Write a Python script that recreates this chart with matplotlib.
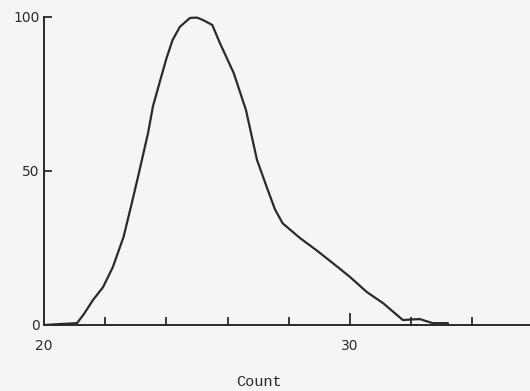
import matplotlib
matplotlib.use("Agg")
import matplotlib.pyplot as plt
from matplotlib.ticker import FixedLocator

count = [20.0, 20.5, 21.08, 21.3, 21.6, 21.93, 22.25, 22.6, 22.87, 23.07, 23.4, 23.56, 23.8, 24.0,
         24.2, 24.44, 24.77, 25.0, 25.2, 25.5, 25.75, 26.2, 26.6, 26.96, 27.3, 27.55, 27.8, 28.37,
         28.9, 29.45, 30.0, 30.55, 31.08, 31.54, 31.73, 32.0, 32.29, 32.7, 33.2]
value = [0.0, 0.3, 0.6, 3.5, 8.1, 12.3, 18.8, 28.6, 39.6, 48.0, 62.3, 71.0, 79.5, 86.5,
         92.5, 96.8, 99.7, 99.8, 99.0, 97.4, 91.5, 81.8, 69.8, 53.6, 44.2, 37.5, 33.0, 28.2,
         24.3, 20.0, 15.6, 10.7, 7.1, 3.2, 1.6, 1.8, 1.9, 0.6, 0.6]
x_ticks = [20, 30]
x_minor = [22, 24, 26, 28, 32, 34]
y_ticks = [0, 50, 100]

bg = "#f6f4f5"
ink = "#2b2a2b"

fig = plt.figure(figsize=(5.30, 3.91), dpi=100, facecolor=bg)
ax = fig.add_axes([44/530, 1-325/391, 1-44/530, (325-17)/391])
ax.set_facecolor(bg)
ax.plot(count, value, color=ink, lw=1.6, solid_joinstyle="round", solid_capstyle="round",
        clip_on=False)

ax.set_xlim(20, 20 + 486/30.6)
ax.set_ylim(0, 100)
for s in ["top", "right"]:
    ax.spines[s].set_visible(False)
for s in ["left", "bottom"]:
    ax.spines[s].set_color(ink)
    ax.spines[s].set_linewidth(1.4)

ax.xaxis.set_major_locator(FixedLocator(x_ticks))
ax.set_xticklabels([str(v) for v in x_ticks])
ax.xaxis.set_minor_locator(FixedLocator(x_minor))
ax.tick_params(axis="x", which="major", direction="in", length=9, width=1.3, color=ink,
               labelsize=10, labelcolor=ink, pad=10)
ax.tick_params(axis="x", which="minor", direction="in", length=6, width=1.3, color=ink)
ax.xaxis.get_major_ticks()[0].tick1line.set_visible(False)

ax.set_yticks(y_ticks)
ax.set_yticklabels([str(v) for v in y_ticks])
ax.tick_params(axis="y", direction="in", length=6, width=1.3, color=ink, labelsize=10,
               labelcolor=ink, pad=3)

fig.text(259/530, 1-382/391, "Count", ha="center", va="center", fontsize=11,
         family="Liberation Mono", color=ink)

fig.savefig("out.png", dpi=100, facecolor=bg)
